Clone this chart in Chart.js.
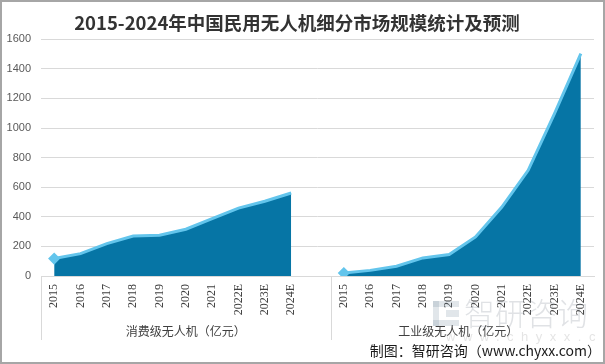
<!DOCTYPE html>
<html>
<head>
<meta charset="utf-8">
<script src="https://cdn.jsdelivr.net/npm/chart.js@4.4.1/dist/chart.umd.min.js"></script>
<style>
html,body{margin:0;padding:0;background:#fff;}
#wrap{position:relative;width:605px;height:364px;}
</style>
</head>
<body>
<div id="wrap"><canvas id="c" width="605" height="364"></canvas></div>
<script>
const titleText = '2015-2024年中国民用无人机细分市场规模统计及预测';
const years = ['2015','2016','2017','2018','2019','2020','2021','2022E','2023E','2024E'];
const groupNames = ['消费级无人机（亿元）', '工业级无人机（亿元）'];
const consumerValues = [118, 151, 219, 270, 275, 316, 388, 459, 505, 561];
const industrialValues = [20, 38, 66, 122, 145, 264, 466, 714, 1097, 1503];
const yTicks = {min: 0, max: 1600, step: 200};
const sourceText = '制图：智研咨询（www.chyxx.com）';
const watermarkText = '智研咨询';
const watermarkUrl = 'www.chyxx.com';

// category labels: consumer group (10 years + one blank slot), then industrial group
const labels = [...years, '', ...years];
const consumerData = [...consumerValues, ...Array(11).fill(null)];
const industrialData = [...Array(11).fill(null), ...industrialValues];
const firstPointRadius = (offset) => labels.map((_, i) => i === offset ? 4 : 0);

const FILL = '#0675a5';
const LINE = '#63c5ec';

const decor = {
  id: 'decor',
  beforeDraw(chart) {
    const ctx = chart.ctx;
    ctx.save();
    ctx.fillStyle = '#ffffff';
    ctx.fillRect(0, 0, chart.width, chart.height);
    ctx.restore();
  },
  afterDraw(chart) {
    const ctx = chart.ctx;
    const xs = chart.scales.x;
    const left = xs.left, right = xs.right;
    const boundary = (xs.getPixelForValue(10) + xs.getPixelForValue(11)) / 2;
    const top = xs.top, bottom = xs.top + 64;
    ctx.save();
    // multi-level separators
    ctx.strokeStyle = '#d9d9d9';
    ctx.lineWidth = 1;
    [left, boundary].forEach(x => {
      const px = Math.round(x) + 0.5;
      ctx.beginPath(); ctx.moveTo(px, top); ctx.lineTo(px, bottom); ctx.stroke();
    });
    // group labels
    ctx.fillStyle = '#404040';
    ctx.font = '12px "Noto Sans CJK SC"';
    ctx.textAlign = 'center';
    ctx.textBaseline = 'middle';
    ctx.fillText(groupNames[0], (left + boundary) / 2, 331);
    ctx.fillText(groupNames[1], (boundary + right) / 2 - 4, 331);

    // watermark
    ctx.fillStyle = 'rgba(120,140,160,0.22)';
    ctx.fillRect(433, 301, 26, 6);
    ctx.fillRect(433, 301, 6, 25);
    ctx.fillRect(433, 320, 26, 6);
    ctx.fillRect(446, 310, 13, 7);
    ctx.fillStyle = 'rgba(130,140,150,0.25)';
    ctx.font = '300 31px "Noto Sans CJK SC"';
    ctx.textAlign = 'left';
    ctx.fillText(watermarkText, 464, 313);
    ctx.font = '13px "Liberation Sans"';
    try { ctx.letterSpacing = '7.5px'; } catch(e) {}
    ctx.fillStyle = 'rgba(130,130,130,0.22)';
    ctx.fillText(watermarkUrl, 446, 337);
    try { ctx.letterSpacing = '0px'; } catch(e) {}

    // source
    ctx.fillStyle = '#1a1a1a';
    ctx.font = '14px "Noto Sans CJK SC"';
    ctx.textAlign = 'right';
    ctx.fillText(sourceText, 601, 351);

    // outer border
    ctx.strokeStyle = '#a6a6a6';
    ctx.lineWidth = 2;
    ctx.strokeRect(1, 1, chart.width - 2, chart.height - 2);
    ctx.restore();
  }
};

new Chart(document.getElementById('c'), {
  type: 'line',
  data: {
    labels: labels,
    datasets: [
      {
        label: groupNames[0],
        data: consumerData,
        borderColor: LINE,
        backgroundColor: FILL,
        fill: 'origin',
        borderWidth: 3,
        tension: 0,
        pointStyle: 'rectRot',
        pointRadius: firstPointRadius(0),
        pointBackgroundColor: LINE,
        pointBorderColor: LINE,
        spanGaps: false
      },
      {
        label: groupNames[1],
        data: industrialData,
        borderColor: LINE,
        backgroundColor: FILL,
        fill: 'origin',
        borderWidth: 3,
        tension: 0,
        pointStyle: 'rectRot',
        pointRadius: firstPointRadius(11),
        pointBackgroundColor: LINE,
        pointBorderColor: LINE,
        spanGaps: false
      }
    ]
  },
  options: {
    responsive: false,
    animation: false,
    devicePixelRatio: 1,
    layout: {padding: {left: 0, right: 11, top: 0, bottom: 0}},
    plugins: {
      legend: {display: false},
      tooltip: {enabled: false},
      title: {
        display: true,
        text: titleText,
        color: '#333333',
        font: {family: '"Noto Sans CJK SC"', size: 18.5, weight: 'bold', lineHeight: 1.2},
        padding: {top: 12, bottom: 5}
      }
    },
    scales: {
      x: {
        type: 'category',
        offset: true,
        grid: {display: false, drawTicks: false},
        border: {display: true, color: '#d9d9d9', width: 1},
        ticks: {
          autoSkip: false,
          minRotation: 90,
          maxRotation: 90,
          padding: 8,
          color: '#404040',
          font: {family: '"Liberation Serif"', size: 12}
        },
        afterFit(scale) { scale.height = 88; }
      },
      y: {
        min: yTicks.min,
        max: yTicks.max,
        grid: {color: '#d9d9d9', drawTicks: false},
        border: {display: false},
        ticks: {
          stepSize: yTicks.step,
          padding: 10,
          color: '#595959',
          font: {family: '"Liberation Sans"', size: 11},
          callback: (v) => String(v)
        },
        afterFit(scale) { scale.width = 41; }
      }
    }
  },
  plugins: [decor]
});
</script>
</body>
</html>
